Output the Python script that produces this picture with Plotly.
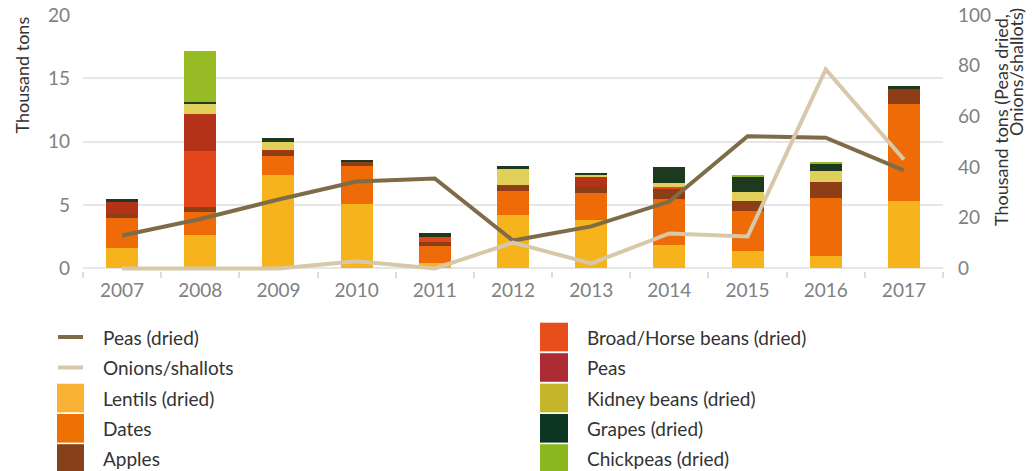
import plotly.graph_objects as go

# ---------------- data ----------------
years = ["2007", "2008", "2009", "2010", "2011", "2012", "2013", "2014", "2015", "2016", "2017"]

lentils = [1.58, 2.68, 7.41, 5.05, 0.40, 4.18, 3.79, 1.82, 1.36, 1.02, 5.29]
dates = [2.37, 1.74, 1.44, 3.00, 1.34, 1.97, 2.16, 3.63, 3.15, 4.57, 7.65]
apples = [0.34, 0.40, 0.45, 0.40, 0.34, 0.42, 0.48, 0.86, 0.84, 1.26, 1.26]
broad_beans = [0, 4.41, 0, 0, 0.43, 0, 0, 0.08, 0, 0, 0]
peas = [0.92, 2.92, 0.08, 0, 0, 0.05, 0.86, 0, 0, 0, 0]
kidney_beans = [0, 0.86, 0.63, 0, 0, 1.19, 0.13, 0.32, 0.66, 0.86, 0]
grapes = [0.24, 0.16, 0.32, 0.08, 0.28, 0.31, 0.08, 1.26, 1.26, 0.58, 0.16]
chickpeas = [0, 4.02, 0, 0, 0, 0, 0, 0, 0.05, 0.08, 0]

peas_dried = [13.0, 19.5, 27.2, 34.3, 35.5, 11.0, 16.6, 26.4, 52.2, 51.6, 38.7]
onions = [0, 0, 0, 2.8, 0, 10.2, 2.0, 13.8, 12.6, 78.5, 43.0]

bar_names = ["Lentils (dried)", "Dates", "Apples", "Broad/Horse beans (dried)", "Peas",
             "Kidney beans (dried)", "Grapes (dried)", "Chickpeas (dried)"]
bar_values = [lentils, dates, apples, broad_beans, peas, kidney_beans, grapes, chickpeas]
line_names = ["Peas (dried)", "Onions/shallots"]
line_values = [peas_dried, onions]

left_title = "Thousand tons"
right_title_lines = ["Thousand tons (Peas dried,", "Onions/shallots)"]

# ---------------- styles ----------------
bar_colors = ["#F6B31B", "#EF6B08", "#8E3E17", "#E2461A", "#B33218", "#E0D05A", "#1E3A1E", "#97BB24"]
legend_bar_colors = ["#F9B233", "#EE7203", "#874118", "#E84E1B", "#AD2B34", "#C4B52A", "#0C3622", "#8CB81F"]
line_colors = ["#7D6C47", "#D8C8AA"]

FONT = "Lato, 'Open Sans', sans-serif"
W, H = 1035, 471
ML, MR, MT, MB = 83, 92, 15, 200
PW, PH = W - ML - MR, H - MT - MB


def px_x(px):
    return (px - ML) / PW


def px_y(py):
    return (H - MB - py) / PH


fig = go.Figure()

for name, vals, col in zip(bar_names, bar_values, bar_colors):
    fig.add_trace(go.Bar(x=years, y=vals, name=name, marker=dict(color=col, line=dict(width=0)),
                         showlegend=False, yaxis="y"))

for name, vals, col in zip(line_names, line_values, line_colors):
    fig.add_trace(go.Scatter(x=years, y=vals, name=name, mode="lines",
                             line=dict(color=col, width=4), showlegend=False, yaxis="y2"))

# ---------------- custom legend ----------------
shapes = []
annotations = []
row_y = [337, 367.5, 398, 428.3, 458.5]
col1 = [("line", line_names[0], line_colors[0]), ("line", line_names[1], line_colors[1])] + \
       [("bar", bar_names[i], legend_bar_colors[i]) for i in range(3)]
col2 = [("bar", bar_names[i], legend_bar_colors[i]) for i in range(3, 8)]
for (sx0, sx1, tx), items in (((57, 84, 101), col1), ((540, 568, 585), col2)):
    for ry, (kind, name, col) in zip(row_y, items):
        if kind == "line":
            shapes.append(dict(type="line", xref="paper", yref="paper",
                               x0=px_x(sx0 + 1), x1=px_x(sx1 - 1), y0=px_y(ry), y1=px_y(ry),
                               line=dict(color=col, width=4)))
        else:
            shapes.append(dict(type="rect", xref="paper", yref="paper",
                               x0=px_x(sx0), x1=px_x(sx1), y0=px_y(ry - 14.3), y1=px_y(ry + 14.3),
                               fillcolor=col, line=dict(width=0)))
        annotations.append(dict(text=name, xref="paper", yref="paper", x=px_x(tx), y=px_y(ry),
                                xanchor="left", yanchor="middle", showarrow=False,
                                font=dict(family=FONT, size=19, color="#333333")))

# axis titles
annotations.append(dict(text=left_title, textangle=-90, xref="paper", yref="paper",
                        x=px_x(21), y=px_y(14), xanchor="center", yanchor="top", showarrow=False,
                        font=dict(family=FONT, size=18, color="#333333")))
for txt, cx, top in zip(right_title_lines, (1001, 1016), (12, 6)):
    annotations.append(dict(text=txt, textangle=-90, xref="paper", yref="paper",
                            x=px_x(cx), y=px_y(top), xanchor="center", yanchor="top",
                            showarrow=False, font=dict(family=FONT, size=18, color="#333333")))

tickfont = dict(family=FONT, size=19, color="#808080")

fig.update_layout(
    template="none",
    width=W, height=H,
    margin=dict(l=ML, r=MR, t=MT, b=MB, pad=0, autoexpand=False),
    paper_bgcolor="white", plot_bgcolor="white",
    barmode="stack", bargap=0.59,
    showlegend=False,
    font=dict(family=FONT),
    xaxis=dict(type="category", tickson="boundaries", ticks="outside", ticklen=6, tickwidth=2,
               tickcolor="#dcdcdc", showgrid=False, showline=False, zeroline=False,
               tickfont=tickfont, ticklabelstandoff=6, automargin=False),
    yaxis=dict(range=[-0.2, 20], tickvals=[0, 5, 10, 15, 20], showgrid=True, gridcolor="#e6e6e6",
               gridwidth=2, zeroline=False, showline=False, ticks="", tickfont=tickfont,
               ticklabelstandoff=12, automargin=False),
    yaxis2=dict(range=[-1, 100], tickvals=[0, 20, 40, 60, 80, 100], overlaying="y", side="right",
                showgrid=False, zeroline=False, showline=False, ticks="", tickfont=tickfont,
                ticklabelstandoff=14, automargin=False),
    shapes=shapes,
    annotations=annotations,
)

fig.write_html("out.html", config={"displayModeBar": False},
               post_script="document.body.style.margin='0';")
